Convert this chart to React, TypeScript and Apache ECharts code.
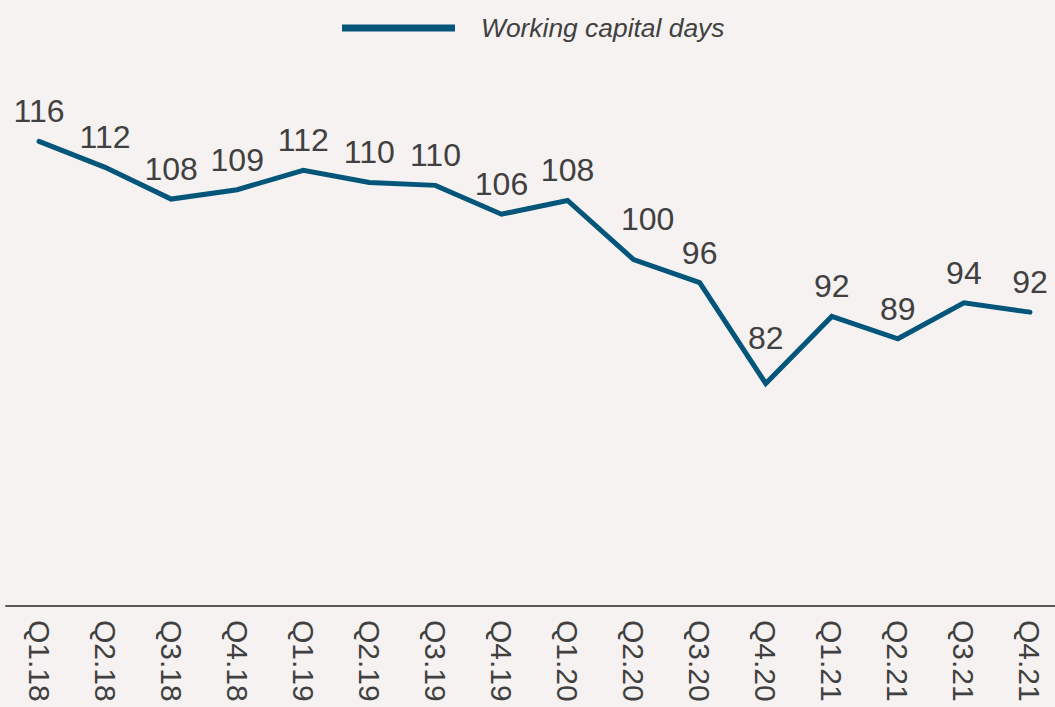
import React, { useEffect, useRef } from "react";
import * as echarts from "echarts";

const categories = [
  "Q1.18", "Q2.18", "Q3.18", "Q4.18",
  "Q1.19", "Q2.19", "Q3.19", "Q4.19",
  "Q1.20", "Q2.20", "Q3.20", "Q4.20",
  "Q1.21", "Q2.21", "Q3.21", "Q4.21",
];
const workingCapitalDays = [
  116.0, 112.4, 108.0, 109.3,
  112.0, 110.3, 109.9, 105.9,
  107.8, 99.6, 96.4, 82.4,
  91.7, 88.6, 93.6, 92.3,
];
const seriesName = "Working capital days";

const LINE = "#03557A";
const TEXT = "#404040";
const BG = "#F5F2F1";

export default function App() {
  const ref = useRef<HTMLDivElement>(null);

  useEffect(() => {
    document.body.style.margin = "0";
    document.body.style.overflow = "hidden";
    const chart = echarts.init(ref.current!, null, { renderer: "svg" });
    const minIdx = workingCapitalDays.indexOf(Math.min(...workingCapitalDays));
    const idx100 = 9;
    chart.setOption({
      animation: false,
      backgroundColor: BG,
      textStyle: { fontFamily: "Liberation Sans, Arial, sans-serif" },
      legend: {
        data: [seriesName],
        left: 342,
        top: 15,
        padding: 0,
        icon: "rect",
        itemWidth: 113,
        itemHeight: 7,
        itemStyle: { color: LINE },
        textStyle: {
          fontSize: 26.4,
          fontStyle: "italic",
          color: TEXT,
          padding: [0, 0, 0, 21],
          fontFamily: "Liberation Sans, Arial, sans-serif",
        },
      },
      grid: {
        left: 6,
        right: -8,
        top: 40.6,
        bottom: 101,
        containLabel: false,
        outerBoundsMode: "none",
      },
      xAxis: {
        type: "category",
        data: categories,
        boundaryGap: true,
        axisLine: { show: true, lineStyle: { color: "#595959", width: 2 } },
        axisTick: { show: false },
        axisLabel: {
          rotate: -90,
          margin: 14,
          fontSize: 30,
          color: TEXT,
          interval: 0,
          fontFamily: "Liberation Sans, Arial, sans-serif",
        },
      },
      yAxis: {
        type: "value",
        min: 51.5,
        max: 130,
        show: false,
        splitLine: { show: false },
      },
      series: [
        {
          name: seriesName,
          type: "line",
          data: workingCapitalDays,
          symbol: "circle",
          symbolSize: 0,
          showSymbol: true,
          lineStyle: { color: LINE, width: 5, cap: "round", join: "miter" },
          itemStyle: { color: LINE },
          label: {
            show: true,
            position: "top",
            distance: 14,
            fontSize: 32,
            color: TEXT,
            fontFamily: "Liberation Sans, Arial, sans-serif",
            formatter: (p: any) => String(Math.round(p.value)),
          },
          labelLayout: (p: any) => {
            if (p.dataIndex === minIdx) return { dy: -15 };
            if (p.dataIndex === idx100) return { dx: 14, dy: -11 };
            return {};
          },
        },
      ],
    });
    return () => chart.dispose();
  }, []);

  return (
    <div
      ref={ref}
      style={{ width: 1055, height: 707, background: BG }}
    />
  );
}
